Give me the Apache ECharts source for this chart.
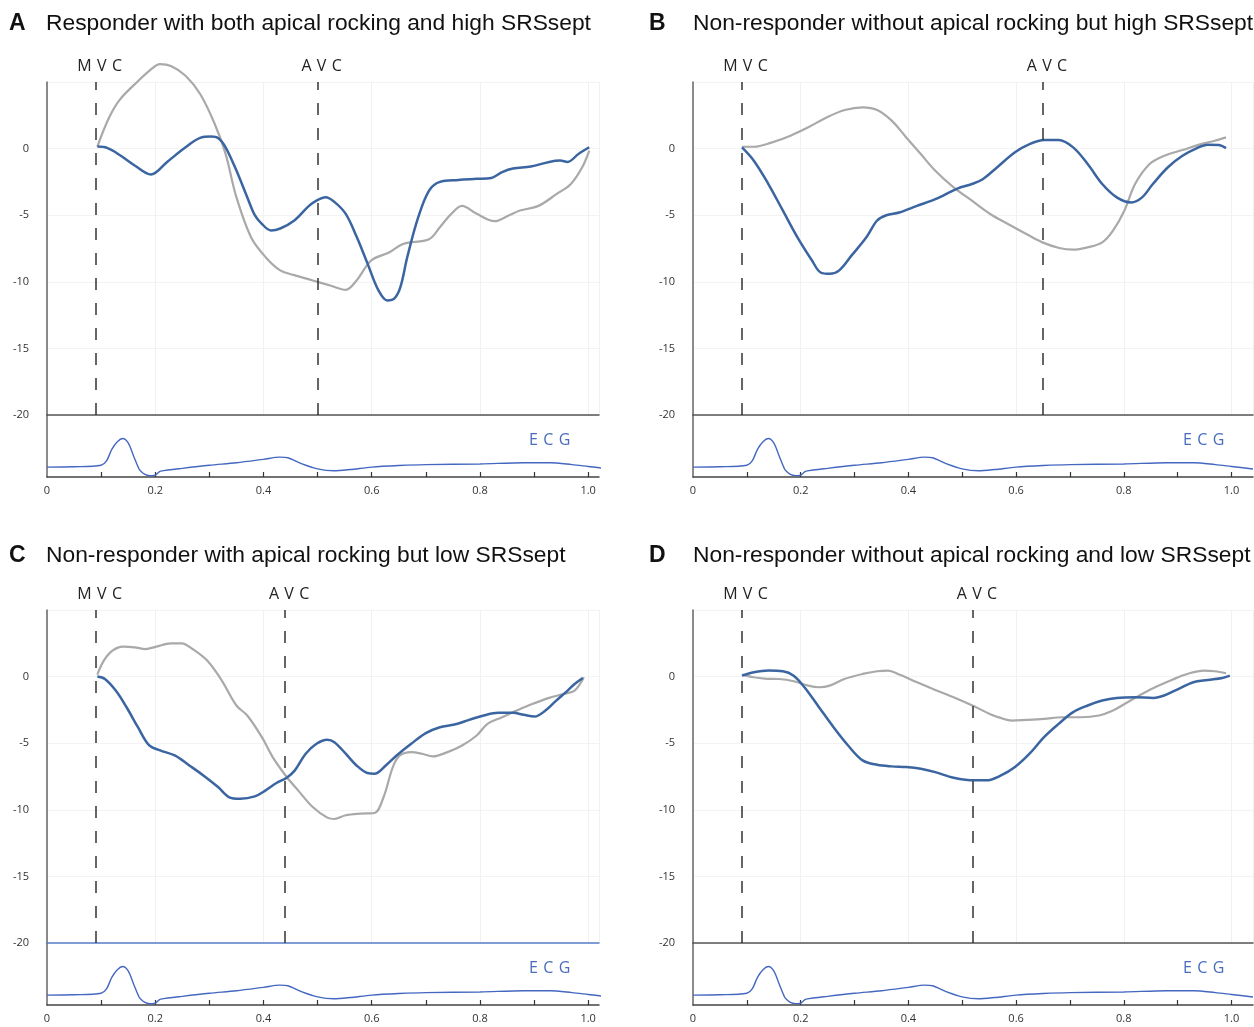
<!DOCTYPE html>
<html>
<head>
<meta charset="utf-8">
<script src="https://cdn.jsdelivr.net/npm/echarts@6/dist/echarts.min.js"></script>
<style>
  html, body { margin: 0; padding: 0; background: #ffffff; }
  #chart { width: 1254px; height: 1027px; }
</style>
</head>
<body>
<div id="chart"></div>
<script>
// ---------- data ----------
const letters = ['A', 'B', 'C', 'D'];
const titles = [
  'Responder with both apical rocking and high SRSsept',
  'Non-responder without apical rocking but high SRSsept',
  'Non-responder with apical rocking but low SRSsept',
  'Non-responder without apical rocking and low SRSsept'
];
const mvcTimes = [0.094, 0.092, 0.094, 0.092];
const avcTimes = [0.5, 0.651, 0.444, 0.524];

const xTickValues = [0.1, 0.2, 0.3, 0.4, 0.5, 0.6, 0.7, 0.8, 0.9, 1.0];
const xLabelValues = [0, 0.2, 0.4, 0.6, 0.8, 1.0];
const yLabelValues = [0, -5, -10, -15, -20];

// Panel A
const aBlue = [[0.093,0.15],[0.111,0.05],[0.135,-0.5],[0.162,-1.27],[0.192,-1.95],[0.222,-1.0],[0.256,0.1],[0.283,0.8],[0.303,0.9],[0.316,0.8],[0.330,0.1],[0.350,-1.65],[0.370,-3.65],[0.384,-5.0],[0.397,-5.65],[0.414,-6.15],[0.431,-6.0],[0.457,-5.4],[0.484,-4.3],[0.498,-3.9],[0.515,-3.65],[0.531,-4.0],[0.552,-4.9],[0.572,-6.6],[0.592,-8.6],[0.612,-10.6],[0.629,-11.4],[0.642,-11.25],[0.653,-10.4],[0.666,-8.1],[0.686,-5.15],[0.706,-3.15],[0.726,-2.5],[0.760,-2.35],[0.794,-2.27],[0.821,-2.2],[0.841,-1.77],[0.861,-1.5],[0.894,-1.35],[0.928,-1.0],[0.948,-0.9],[0.962,-1.0],[0.982,-0.4],[1.002,0.1]];
const aGray = [[0.093,0.15],[0.115,2.35],[0.135,3.7],[0.169,5.1],[0.189,5.84],[0.209,6.34],[0.229,6.2],[0.256,5.47],[0.283,4.1],[0.310,1.85],[0.330,-0.4],[0.350,-3.65],[0.377,-6.65],[0.404,-8.15],[0.431,-9.14],[0.457,-9.5],[0.491,-9.9],[0.525,-10.3],[0.552,-10.6],[0.572,-9.9],[0.599,-8.4],[0.632,-7.8],[0.659,-7.14],[0.706,-6.8],[0.726,-5.9],[0.747,-4.9],[0.767,-4.3],[0.794,-4.9],[0.827,-5.45],[0.854,-5.0],[0.874,-4.65],[0.908,-4.3],[0.942,-3.4],[0.968,-2.65],[0.989,-1.4],[1.002,-0.15]];

// Panel B
const bBlue = [[0.091,0.09],[0.113,-0.91],[0.140,-2.66],[0.167,-4.66],[0.194,-6.66],[0.221,-8.4],[0.237,-9.3],[0.254,-9.4],[0.271,-9.16],[0.295,-8.0],[0.322,-6.66],[0.342,-5.4],[0.359,-5.0],[0.383,-4.8],[0.416,-4.3],[0.450,-3.8],[0.491,-3.0],[0.518,-2.66],[0.538,-2.3],[0.565,-1.4],[0.598,-0.28],[0.625,0.34],[0.653,0.64],[0.679,0.64],[0.706,0.09],[0.733,-1.16],[0.760,-2.66],[0.787,-3.66],[0.814,-4.04],[0.834,-3.66],[0.854,-2.66],[0.882,-1.4],[0.909,-0.54],[0.936,0.04],[0.956,0.29],[0.976,0.27],[0.990,0.04]];
const bGray = [[0.091,0.14],[0.113,0.14],[0.147,0.47],[0.181,0.97],[0.214,1.6],[0.248,2.34],[0.282,2.9],[0.315,3.1],[0.342,2.9],[0.369,2.1],[0.396,0.84],[0.423,-0.41],[0.450,-1.66],[0.484,-2.91],[0.518,-3.91],[0.552,-4.91],[0.585,-5.66],[0.619,-6.41],[0.649,-7.04],[0.680,-7.46],[0.706,-7.59],[0.733,-7.41],[0.760,-7.04],[0.780,-6.16],[0.801,-4.66],[0.821,-2.66],[0.848,-1.16],[0.875,-0.54],[0.909,-0.11],[0.943,0.34],[0.969,0.59],[0.990,0.84]];

// Panel C
const cBlue = [[0.093,0.0],[0.107,-0.18],[0.127,-1.05],[0.147,-2.3],[0.168,-3.8],[0.189,-5.17],[0.209,-5.54],[0.236,-5.92],[0.263,-6.67],[0.289,-7.42],[0.316,-8.29],[0.336,-9.04],[0.357,-9.17],[0.384,-8.99],[0.404,-8.54],[0.424,-7.99],[0.443,-7.59],[0.458,-7.04],[0.478,-5.79],[0.498,-5.04],[0.518,-4.74],[0.531,-4.92],[0.552,-5.79],[0.572,-6.67],[0.592,-7.24],[0.605,-7.29],[0.626,-6.67],[0.646,-5.92],[0.673,-5.04],[0.700,-4.24],[0.726,-3.8],[0.753,-3.6],[0.780,-3.25],[0.807,-2.92],[0.834,-2.72],[0.861,-2.72],[0.881,-2.87],[0.901,-3.0],[0.921,-2.55],[0.941,-1.8],[0.962,-1.05],[0.975,-0.55],[0.990,-0.1]];
const cGray = [[0.093,0.15],[0.105,1.2],[0.121,1.95],[0.141,2.25],[0.162,2.2],[0.182,2.07],[0.202,2.25],[0.229,2.5],[0.249,2.5],[0.269,2.07],[0.296,1.2],[0.323,-0.3],[0.350,-2.17],[0.370,-2.92],[0.397,-4.54],[0.417,-6.04],[0.443,-7.54],[0.464,-8.54],[0.491,-9.79],[0.518,-10.59],[0.531,-10.69],[0.552,-10.41],[0.579,-10.29],[0.605,-10.24],[0.622,-9.04],[0.639,-6.79],[0.652,-5.92],[0.673,-5.67],[0.693,-5.79],[0.713,-5.99],[0.740,-5.67],[0.767,-5.17],[0.794,-4.42],[0.814,-3.55],[0.841,-3.05],[0.868,-2.55],[0.894,-2.1],[0.928,-1.6],[0.955,-1.3],[0.975,-1.05],[0.992,-0.05]];

// Panel D
const dBlue = [[0.091,0.07],[0.113,0.32],[0.140,0.45],[0.167,0.4],[0.187,0.07],[0.207,-0.8],[0.234,-2.3],[0.261,-3.8],[0.288,-5.17],[0.315,-6.29],[0.342,-6.62],[0.369,-6.74],[0.396,-6.79],[0.423,-6.92],[0.450,-7.17],[0.484,-7.59],[0.523,-7.79],[0.545,-7.79],[0.572,-7.42],[0.598,-6.79],[0.625,-5.79],[0.652,-4.54],[0.679,-3.55],[0.706,-2.67],[0.733,-2.17],[0.760,-1.8],[0.787,-1.6],[0.821,-1.55],[0.855,-1.6],[0.875,-1.42],[0.902,-0.92],[0.929,-0.42],[0.956,-0.25],[0.983,-0.1],[0.997,0.07]];
const dGray = [[0.091,0.15],[0.113,-0.05],[0.133,-0.15],[0.160,-0.18],[0.187,-0.35],[0.214,-0.68],[0.234,-0.8],[0.254,-0.68],[0.281,-0.18],[0.315,0.2],[0.342,0.4],[0.362,0.45],[0.383,0.15],[0.416,-0.43],[0.450,-1.0],[0.484,-1.55],[0.523,-2.25],[0.551,-2.8],[0.571,-3.1],[0.592,-3.3],[0.619,-3.25],[0.652,-3.17],[0.686,-3.05],[0.720,-3.05],[0.754,-2.92],[0.780,-2.55],[0.807,-1.92],[0.834,-1.3],[0.861,-0.75],[0.889,-0.25],[0.922,0.25],[0.949,0.45],[0.969,0.4],[0.990,0.25]];

// ECG trace (relative amplitude, 0 = bottom axis, 1 = -20 line)
const ecg = [[0,0.16],[0.05,0.165],[0.1,0.19],[0.11,0.26],[0.12,0.45],[0.13,0.57],[0.14,0.62],[0.15,0.55],[0.16,0.34],[0.17,0.13],[0.175,0.08],[0.18,0.045],[0.185,0.028],[0.19,0.022],[0.195,0.022],[0.2,0.028],[0.203,0.05],[0.207,0.08],[0.21,0.095],[0.25,0.14],[0.3,0.19],[0.35,0.23],[0.4,0.285],[0.43,0.32],[0.445,0.31],[0.47,0.215],[0.5,0.13],[0.53,0.1],[0.56,0.12],[0.6,0.16],[0.65,0.185],[0.7,0.2],[0.8,0.21],[0.88,0.23],[0.93,0.23],[0.97,0.2],[1.0,0.17],[1.04,0.13]];

const blueSeries = [aBlue, bBlue, cBlue, dBlue];
const graySeries = [aGray, bGray, cGray, dGray];

// ---------- layout / style ----------
const layout = [
  { left: 47,  top: 82,  width: 552, xMax: 1.02, titleTop: 12,  letterLeft: 9,   titleLeft: 46,  baseColor: '#555' },
  { left: 693, top: 82,  width: 560, xMax: 1.04, titleTop: 12,  letterLeft: 649, titleLeft: 693, baseColor: '#555' },
  { left: 47,  top: 610, width: 552, xMax: 1.02, titleTop: 544, letterLeft: 9,   titleLeft: 46,  baseColor: '#5a7fc9' },
  { left: 693, top: 610, width: 560, xMax: 1.04, titleTop: 544, letterLeft: 649, titleLeft: 693, baseColor: '#555' }
];
const MAIN_H = 333, ECG_H = 62;
const BLUE = '#3b65a1', GRAY = '#a9a9a9', ECG_BLUE = '#4467c0';
const FONT = "'Open Sans', 'Liberation Sans', sans-serif";
const TFONT = "'Liberation Sans', Arial, sans-serif";
const sp = (s) => s.split('').join('\u2004');

const grid = [], xAxis = [], yAxis = [], series = [], title = [], graphic = [];

layout.forEach((L, i) => {
  const gMain = i * 2, gEcg = i * 2 + 1;
  grid.push({ left: L.left, top: L.top, width: L.width, height: MAIN_H, outerBoundsMode: 'none' });
  grid.push({ left: L.left, top: L.top + MAIN_H, width: L.width, height: ECG_H, outerBoundsMode: 'none' });

  xAxis.push({
    type: 'value', gridIndex: gMain, min: 0, max: L.xMax, interval: 0.2,
    axisLine: { show: true, onZero: false, lineStyle: { color: L.baseColor, width: 1.5 } },
    axisTick: { show: false }, axisLabel: { show: false },
    splitLine: { show: true, lineStyle: { color: '#f1f1f1', width: 1 } }
  });
  xAxis.push({
    type: 'value', gridIndex: gEcg, min: 0, max: L.xMax,
    axisLine: { show: true, onZero: false, lineStyle: { color: '#444', width: 1.5 } },
    axisTick: { show: true, inside: true, length: 5, customValues: xTickValues, lineStyle: { color: '#333', width: 1.2 } },
    axisLabel: {
      show: true, customValues: xLabelValues, margin: 8, fontSize: 11, color: '#333', fontFamily: FONT,
      formatter: (v) => (v === 0 ? '0' : v.toFixed(1))
    },
    splitLine: { show: false }
  });

  yAxis.push({
    type: 'value', gridIndex: gMain, min: -20, max: 5, interval: 5,
    axisLine: { show: true, onZero: false, lineStyle: { color: '#666', width: 1.5 } },
    axisTick: { show: false },
    axisLabel: { show: true, customValues: yLabelValues, margin: 18, fontSize: 11, color: '#333', fontFamily: FONT },
    splitLine: { show: true, lineStyle: { color: '#f3f3f3', width: 1 } }
  });
  yAxis.push({
    type: 'value', gridIndex: gEcg, min: 0, max: 1,
    axisLine: { show: true, onZero: false, lineStyle: { color: '#666', width: 1.5 } },
    axisTick: { show: false }, axisLabel: { show: false }, splitLine: { show: false }
  });

  series.push({
    type: 'line', xAxisIndex: gMain, yAxisIndex: gMain, data: graySeries[i],
    smooth: 0.35, showSymbol: false, symbol: 'none', clip: false,
    lineStyle: { color: GRAY, width: 2.2 }, z: 3
  });
  series.push({
    type: 'line', xAxisIndex: gMain, yAxisIndex: gMain, data: blueSeries[i],
    smooth: 0.35, showSymbol: false, symbol: 'none', clip: false,
    lineStyle: { color: BLUE, width: 2.5 }, z: 4,
    markLine: {
      silent: true, symbol: 'none', animation: false,
      lineStyle: { type: [12, 13], color: '#333', width: 1.5 },
      label: { show: true, position: 'end', distance: 8, offset: [4, 0], fontSize: 16, color: '#222', fontFamily: FONT },
      data: [
        { xAxis: mvcTimes[i], label: { formatter: sp('MVC') } },
        { xAxis: avcTimes[i], label: { formatter: sp('AVC') } }
      ]
    }
  });
  series.push({
    type: 'line', xAxisIndex: gEcg, yAxisIndex: gEcg, data: ecg,
    smooth: 0.3, showSymbol: false, symbol: 'none',
    lineStyle: { color: ECG_BLUE, width: 1.4 }, z: 3
  });

  title.push({
    text: letters[i], left: L.letterLeft, top: L.titleTop, padding: 0,
    textStyle: { fontSize: 23, fontWeight: 'bold', color: '#111', fontFamily: TFONT }
  });
  title.push({
    text: titles[i], left: L.titleLeft, top: L.titleTop, padding: 0,
    textStyle: { fontSize: 22.8, fontWeight: 'normal', color: '#111', fontFamily: TFONT }
  });

  graphic.push({
    type: 'text', left: L.left + L.width - 70, top: L.top + MAIN_H + 17,
    style: { text: sp('ECG'), fontSize: 16, fill: '#4a6cbc', fontFamily: FONT }
  });
});

const chart = echarts.init(document.getElementById('chart'), null, { renderer: 'canvas' });
chart.setOption({
  animation: false,
  backgroundColor: '#ffffff',
  title, grid, xAxis, yAxis, series, graphic
});
</script>
</body>
</html>
